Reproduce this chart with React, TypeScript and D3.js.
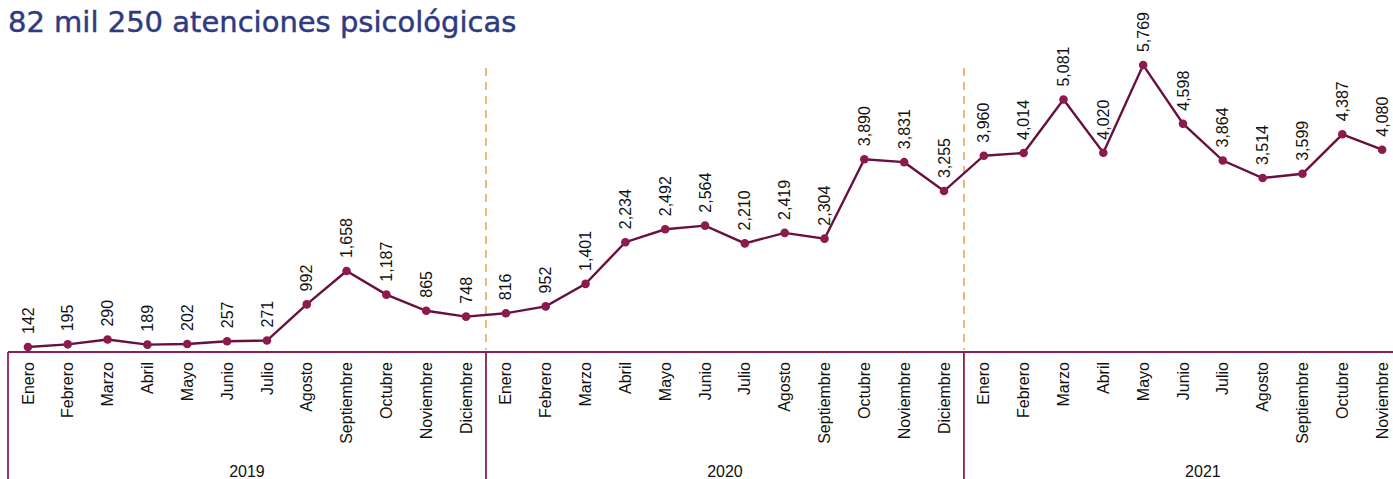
import React from "react";
import * as d3 from "d3";

const years = ["2019", "2020", "2021"];
const months = ["Enero", "Febrero", "Marzo", "Abril", "Mayo", "Junio", "Julio", "Agosto", "Septiembre", "Octubre", "Noviembre", "Diciembre"];
const values2019 = [142, 195, 290, 189, 202, 257, 271, 992, 1658, 1187, 865, 748];
const values2020 = [816, 952, 1401, 2234, 2492, 2564, 2210, 2419, 2304, 3890, 3831, 3255];
const values2021 = [3960, 4014, 5081, 4020, 5769, 4598, 3864, 3514, 3599, 4387, 4080];
const title = "82 mil 250 atenciones psicológicas";

const W = 1393;
const H = 479;

export default function App() {
  const series = [values2019, values2020, values2021];
  const data: { year: string; month: string; value: number; key: string }[] = [];
  series.forEach((vals, yi) =>
    vals.forEach((v, mi) => data.push({ year: years[yi], month: months[mi], value: v, key: `${years[yi]}-${mi}` }))
  );
  const totalBands = 36;
  const left = 8;
  const bandW = 39.83;
  const x = d3
    .scaleBand<string>()
    .domain(d3.range(totalBands).map((i) => String(i)))
    .range([left, left + bandW * totalBands])
    .paddingInner(0)
    .paddingOuter(0);
  const xc = (i: number) => (x(String(i)) as number) + x.bandwidth() / 2;
  const y = d3.scaleLinear().domain([0, 6000]).range([354.1, 53.5]);
  const axisY = 352;

  const line = d3
    .line<{ value: number }>()
    .x((_, i) => xc(i))
    .y((d) => y(d.value));

  const font = "'Liberation Sans', Arial, Helvetica, sans-serif";
  const fs = 16;
  const yearEdges = [0, 12, 24, 36].map((i) => left + bandW * i);

  return (
    <svg width={W} height={H} style={{ position: "absolute", left: 0, top: 0 }}>
      <text
        x={8}
        y={32}
        fontFamily="'DejaVu Sans', sans-serif"
        fontSize={29}
        fill="#2e3a82"
        stroke="#2e3a82"
        strokeWidth={0.45}
      >
        {title}
      </text>
      {/* dashed dividers */}
      {[1, 2].map((k) => (
        <line
          key={k}
          x1={yearEdges[k]}
          x2={yearEdges[k]}
          y1={68}
          y2={axisY - 2}
          stroke="#f0a455"
          strokeWidth={1.6}
          strokeDasharray="8,6"
        />
      ))}
      {/* axis */}
      <line x1={left} x2={W} y1={axisY} y2={axisY} stroke="#8c1f55" strokeWidth={1.8} />
      {[0, 1, 2].map((k) => (
        <line key={k} x1={yearEdges[k]} x2={yearEdges[k]} y1={axisY} y2={H} stroke="#8c1f55" strokeWidth={1.8} />
      ))}
      {data.map((d, i) => (
        <text
          key={"m" + d.key}
          transform={`translate(${xc(i)},${axisY + 10}) rotate(-90)`}
          textAnchor="end"
          dy="0.35em"
          fontFamily={font}
          fontSize={fs}
          fill="#111"
        >
          {d.month}
        </text>
      ))}
      {years.map((yr, k) => (
        <text
          key={yr}
          x={left + bandW * (12 * k + 6)}
          y={477}
          textAnchor="middle"
          fontFamily={font}
          fontSize={fs}
          fill="#111"
        >
          {yr}
        </text>
      ))}
      <path d={line(data) || ""} fill="none" stroke="#68103f" strokeWidth={2.4} />
      {data.map((d, i) => (
        <circle key={"c" + d.key} cx={xc(i)} cy={y(d.value)} r={4.3} fill="#8c1a4d" />
      ))}
      {data.map((d, i) => (
        <text
          key={"v" + d.key}
          transform={`translate(${xc(i)},${y(d.value) - 13}) rotate(-90)`}
          textAnchor="start"
          dy="0.35em"
          fontFamily={font}
          fontSize={fs}
          fill="#111"
        >
          {d3.format(",")(d.value)}
        </text>
      ))}
    </svg>
  );
}
